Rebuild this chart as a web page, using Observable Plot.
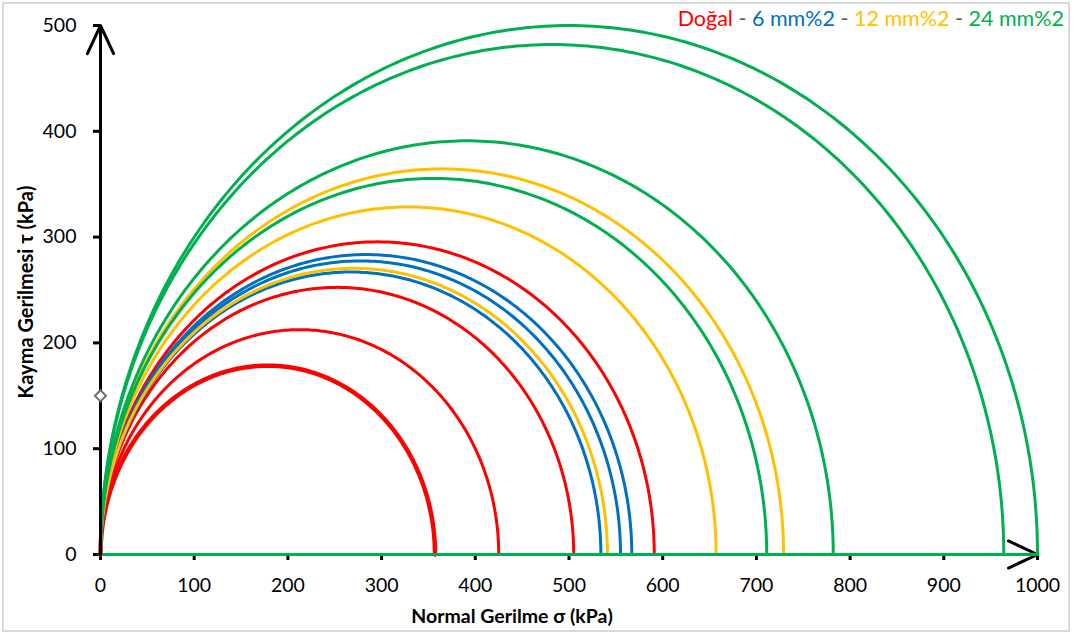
<!DOCTYPE html>
<html>
<head>
<meta charset="utf-8">
<script src="https://cdn.jsdelivr.net/npm/d3@7"></script>
<script src="https://cdn.jsdelivr.net/npm/@observablehq/plot@0.6"></script>
<style>
  html, body { margin: 0; padding: 0; background: #fff; }
  #wrap { position: relative; width: 1073px; height: 638px; overflow: hidden; font-family: Lato, "Open Sans", sans-serif; }
  #border { position: absolute; left: 2px; top: 2px; width: 1068px; height: 630px; border: 2px solid #d9d9d9; box-sizing: border-box; pointer-events: none; }
  #legend { position: absolute; right: 9px; top: 5px; font-size: 21.5px; white-space: pre; }
  #xtitle { position: absolute; left: 512px; top: 615px; transform: translate(-50%, -50%); font-weight: bold; font-size: 19.5px; white-space: nowrap; }
  #ytitle { position: absolute; left: 25px; top: 292px; transform: translate(-50%, -50%) rotate(-90deg); font-weight: bold; font-size: 20px; white-space: nowrap; }
  svg g[aria-label="y-axis tick"] path, svg g[aria-label="x-axis tick"] path { stroke-width: 3; }
  svg g[aria-label="y-axis"] line, svg g[aria-label="x-axis"] line { stroke-width: 3; }
</style>
</head>
<body>
<div id="wrap">
  <div id="chart"></div>
  <div id="legend"></div>
  <div id="xtitle">Normal Gerilme σ (kPa)</div>
  <div id="ytitle">Kayma Gerilmesi τ (kPa)</div>
  <div id="border"></div>
</div>
<script>
// Series names and colours
const seriesNames = ["Doğal", "6 mm%2", "12 mm%2", "24 mm%2"];
const seriesColors = ["#FF0000", "#0070C0", "#FFC000", "#00B050"];
// Major principal stress (circle diameter, kPa) for each test; all circles start at σ = 0
const dogal = [357, 425, 505, 591];
const mm6 = [534, 555, 567];
const mm12 = [541, 657, 729];
const mm24 = [711, 782, 964, 1000];
// Axis ticks
const xTicks = [0, 100, 200, 300, 400, 500, 600, 700, 800, 900, 1000];
const yTicks = [0, 100, 200, 300, 400, 500];
// Marker on the τ axis
const markerSigma = [0];
const markerTau = [150];

const groups = [dogal, mm6, mm12, mm24];

// Build semicircle arcs and their chords on the σ axis
const arcs = [];
const chords = [];
groups.forEach((arr, gi) => {
  arr.forEach((d, ci) => {
    const r = d / 2;
    const id = gi + "-" + ci;
    const N = 240;
    for (let k = 0; k <= N; k++) {
      const t = Math.PI * k / N;
      arcs.push({id, gi, sigma: r * (1 - Math.cos(t)), tau: r * Math.sin(t), thick: gi === 0 && ci === 0});
    }
    chords.push({id, gi, sigma: 0, tau: 0});
    chords.push({id, gi, sigma: d, tau: 0});
  });
});
const markers = markerSigma.map((s, i) => ({sigma: s, tau: markerTau[i]}));

const xMax = xTicks[xTicks.length - 1];
const yMax = yTicks[yTicks.length - 1];

const lineMarks = groups.map((arr, gi) => {
  const a = arcs.filter(p => p.gi === gi);
  const c = chords.filter(p => p.gi === gi);
  return [
    Plot.line(c, {x: "sigma", y: "tau", z: "id", stroke: seriesColors[gi], strokeWidth: 3}),
    Plot.line(a.filter(p => !p.thick), {x: "sigma", y: "tau", z: "id", stroke: seriesColors[gi], strokeWidth: 3}),
    Plot.line(a.filter(p => p.thick), {x: "sigma", y: "tau", z: "id", stroke: seriesColors[gi], strokeWidth: 4.5})
  ];
}).flat();

const chart = Plot.plot({
  width: 1073,
  height: 638,
  marginLeft: 100,
  marginRight: 36,
  marginTop: 25,
  marginBottom: 84,
  style: {fontFamily: "Lato, 'Open Sans', sans-serif", fontSize: "19.5px", color: "#000", background: "transparent"},
  x: {domain: [0, xMax], ticks: xTicks, tickFormat: d => String(d), tickSize: 6, tickPadding: 18, label: null},
  y: {domain: [0, yMax], ticks: yTicks, tickFormat: d => String(d), tickSize: 7, tickPadding: 17, label: null},
  marks: [
    Plot.arrow([{x1: 0, y1: 0, x2: xMax, y2: 0}], {x1: "x1", y1: "y1", x2: "x2", y2: "y2", stroke: "#000", strokeWidth: 3, headAngle: 50, headLength: 16}),
    ...lineMarks,
    Plot.arrow([{x1: 0, y1: 0, x2: 0, y2: yMax}], {x1: "x1", y1: "y1", x2: "x2", y2: "y2", stroke: "#000", strokeWidth: 3, headAngle: 50, headLength: 15.5}),
    Plot.dot(markers, {x: "sigma", y: "tau", symbol: "diamond2", r: 5, stroke: "#6f6f6f", strokeWidth: 2, fill: "#fff"})
  ]
});
document.getElementById("chart").appendChild(chart);

// Legend
const leg = document.getElementById("legend");
seriesNames.forEach((n, i) => {
  if (i > 0) {
    const s = document.createElement("span");
    s.textContent = " - ";
    s.style.color = "#595959";
    leg.appendChild(s);
  }
  const s = document.createElement("span");
  s.textContent = n;
  s.style.color = seriesColors[i];
  leg.appendChild(s);
});
</script>
</body>
</html>
